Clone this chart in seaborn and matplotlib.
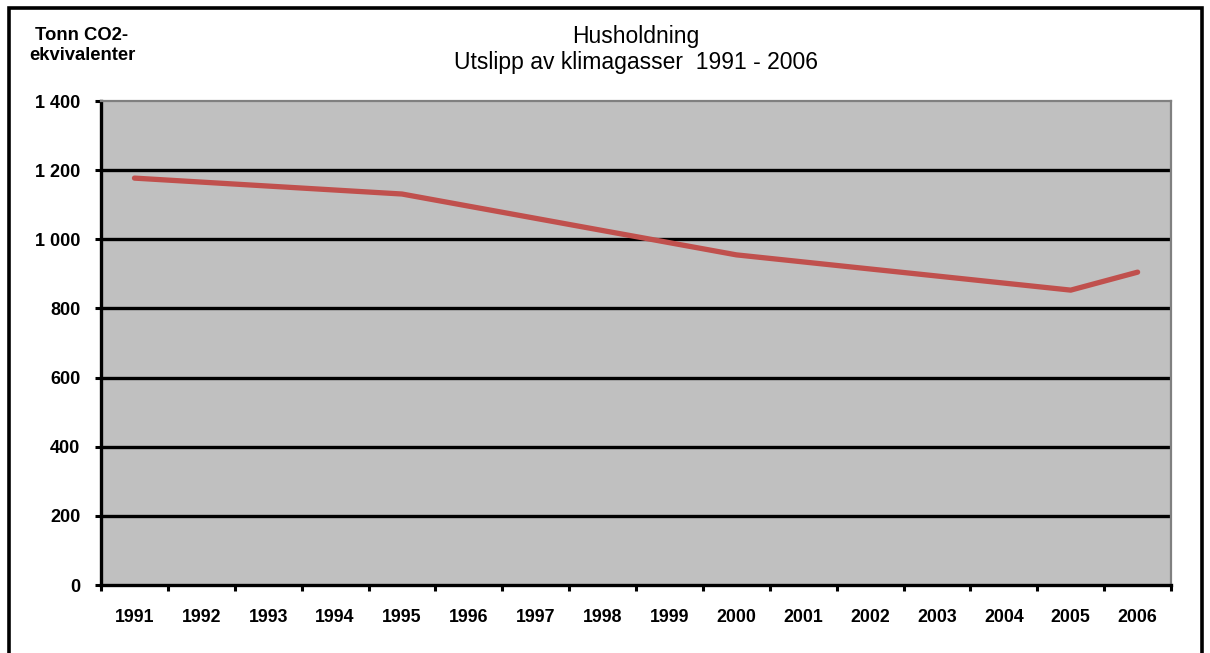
import matplotlib
matplotlib.use("Agg")
import matplotlib.pyplot as plt
from matplotlib.patches import Rectangle
from matplotlib.ticker import FixedLocator, FuncFormatter
import pandas as pd
import seaborn as sns

# Category axis: every year from 1991 to 2006
years = [str(y) for y in range(1991, 2007)]
# Years with recorded emissions (tonn CO2-ekvivalenter)
data_years = ["1991", "1995", "2000", "2005", "2006"]
emissions = [1177, 1131, 955, 853, 905]
y_ticks = [0, 200, 400, 600, 800, 1000, 1200, 1400]

df = pd.DataFrame({
    "pos": [years.index(y) for y in data_years],
    "utslipp": emissions,
})

sns.set_theme(style="white")
plt.rcParams["font.family"] = ["Liberation Sans", "DejaVu Sans"]
plt.rcParams["text.color"] = "black"
plt.rcParams["xtick.color"] = "black"
plt.rcParams["ytick.color"] = "black"

fig = plt.figure(figsize=(12.1, 6.53), dpi=100)
ax = fig.add_axes([0.0835, 0.1041, 0.8843, 0.7412])
ax.set_facecolor("#C0C0C0")

# Horizontal gridlines
for v in y_ticks[1:-1]:
    ax.axhline(v, color="black", lw=2.4, zorder=1)

sns.lineplot(data=df, x="pos", y="utslipp", ax=ax, color="#C0504D",
             lw=3.8, zorder=3, solid_capstyle="round", solid_joinstyle="round")

ax.set_xlim(-0.5, len(years) - 0.5)
ax.set_ylim(0, 1400)
ax.set_xlabel("")
ax.set_ylabel("")

# Labels centred in each category, tick marks on category boundaries
ax.xaxis.set_major_locator(FixedLocator(range(len(years))))
ax.set_xticklabels(years, fontsize=12.8, fontweight="bold", color="black")
ax.xaxis.set_minor_locator(FixedLocator([i - 0.5 for i in range(len(years) + 1)]))
ax.tick_params(axis="x", which="major", length=0, pad=17.5)
ax.tick_params(axis="x", which="minor", length=4.5, width=2.2, color="black",
               direction="out", bottom=True)

ax.yaxis.set_major_locator(FixedLocator(y_ticks))
ax.yaxis.set_major_formatter(FuncFormatter(lambda v, p: f"{int(v):,}".replace(",", " ")))
ax.tick_params(axis="y", length=4, width=2.2, color="black", direction="out",
               left=True, pad=11, labelsize=13, labelcolor="black")
for lab in ax.get_yticklabels():
    lab.set_fontweight("bold")

for side in ("left", "bottom"):
    ax.spines[side].set_color("black")
    ax.spines[side].set_linewidth(2.4)
for side in ("top", "right"):
    ax.spines[side].set_color("#808080")
    ax.spines[side].set_linewidth(1.6)
for s in ax.spines.values():
    s.set_zorder(4)

# Title and unit label
fig.text(0.5256, 1 - 36 / 653, "Husholdning", ha="center", va="center",
         fontsize=16.5, color="black")
fig.text(0.5256, 1 - 62 / 653, "Utslipp av klimagasser  1991 - 2006", ha="center",
         va="center", fontsize=16.5, color="black")
fig.text(82 / 1210, 1 - 27 / 653, "Tonn CO2-\nekvivalenter", ha="center", va="top",
         fontsize=13.3, fontweight="bold", linespacing=1.2, color="black")

# Outer frame
fig.patches.append(Rectangle((8.5 / 1210, -0.1), 1 - 17 / 1210, 1.1 - 8.5 / 653,
                             transform=fig.transFigure, fill=False,
                             edgecolor="black", linewidth=2.6))

fig.savefig("out.png", dpi=100)
